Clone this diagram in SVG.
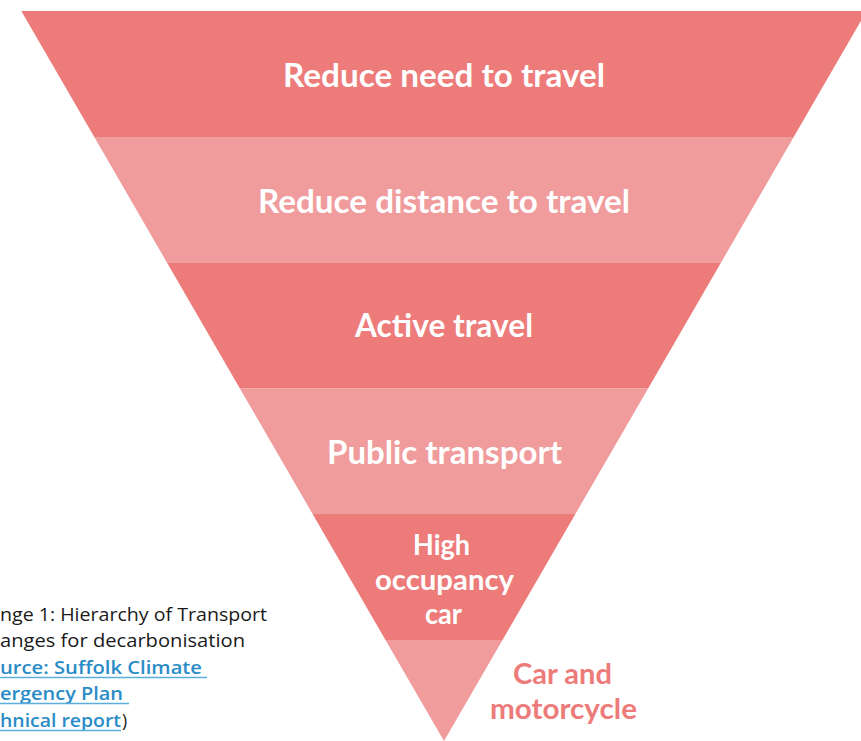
<svg xmlns="http://www.w3.org/2000/svg" width="861" height="741" viewBox="0 0 861 741">
  <style>
    .dark { fill: #EC7B7A; }
    .light { fill: #F09B9C; }
    .lbl { font-family: Lato, "Open Sans", sans-serif; font-weight: 700; fill: #FFFFFF; text-anchor: middle; }
    .big { font-size: 33px; }
    .mid { font-size: 28px; }
    .side { font-family: Lato, "Open Sans", sans-serif; font-weight: 700; font-size: 28px; fill: #EC7B7A; text-anchor: middle; }
    .cap { font-family: "Open Sans", sans-serif; font-size: 17.5px; fill: #1A1A1A; }
    .link { fill: #2A8CC6; font-weight: 600; }
    .uline { stroke: #5BAEDC; stroke-width: 1.5; }
  </style>

  <!-- inverted pyramid tiers, top to bottom -->
  <g id="tier-reduce-need">
    <polygon class="dark" points="21.3,11 866.7,11 793.7,137 94.3,137"/>
    <text class="lbl big" x="444" y="87" textLength="322" lengthAdjust="spacingAndGlyphs">Reduce need to travel</text>
  </g>
  <g id="tier-reduce-distance">
    <polygon class="light" points="94.3,137 793.7,137 720.8,263 167.2,263"/>
    <text class="lbl big" x="444" y="213" textLength="372" lengthAdjust="spacingAndGlyphs">Reduce distance to travel</text>
  </g>
  <g id="tier-active">
    <polygon class="dark" points="167.2,263 720.8,263 648.1,388.5 239.9,388.5"/>
    <text class="lbl big" x="444" y="337" textLength="178" lengthAdjust="spacingAndGlyphs">Active travel</text>
  </g>
  <g id="tier-public">
    <polygon class="light" points="239.9,388.5 648.1,388.5 575.4,514 312.6,514"/>
    <text class="lbl big" x="444.5" y="464" textLength="235" lengthAdjust="spacingAndGlyphs">Public transport</text>
  </g>
  <g id="tier-high-occupancy">
    <polygon class="dark" points="312.6,514 575.4,514 502.5,640 385.5,640"/>
    <text class="lbl mid" x="441.5" y="555" textLength="57" lengthAdjust="spacingAndGlyphs">High</text>
    <text class="lbl mid" x="444.5" y="590" textLength="139" lengthAdjust="spacingAndGlyphs">occupancy</text>
    <text class="lbl mid" x="443.5" y="624" textLength="37" lengthAdjust="spacingAndGlyphs">car</text>
  </g>
  <g id="tier-car">
    <polygon class="light" points="385.5,640 502.5,640 444,741"/>
    <text class="side" x="562.5" y="684" textLength="99" lengthAdjust="spacingAndGlyphs">Car and</text>
    <text class="side" x="563.5" y="719" textLength="147" lengthAdjust="spacingAndGlyphs">motorcycle</text>
  </g>

  <!-- caption -->
  <g id="caption">
    <text class="cap" x="0" y="621" textLength="267" lengthAdjust="spacingAndGlyphs">nge 1: Hierarchy of Transport</text>
    <text class="cap" x="0" y="647" textLength="245" lengthAdjust="spacingAndGlyphs">anges for decarbonisation</text>
    <text class="cap link" x="0" y="674" textLength="202" lengthAdjust="spacingAndGlyphs">urce: Suffolk Climate</text>
    <line class="uline" x1="0" y1="677.5" x2="207" y2="677.5"/>
    <text class="cap link" x="0" y="700" textLength="123" lengthAdjust="spacingAndGlyphs">ergency Plan</text>
    <line class="uline" x1="0" y1="703.5" x2="129" y2="703.5"/>
    <text class="cap link" x="0" y="727" textLength="121" lengthAdjust="spacingAndGlyphs">hnical report</text>
    <text class="cap" x="122" y="727">)</text>
    <line class="uline" x1="0" y1="730.5" x2="121" y2="730.5"/>
  </g>
</svg>
